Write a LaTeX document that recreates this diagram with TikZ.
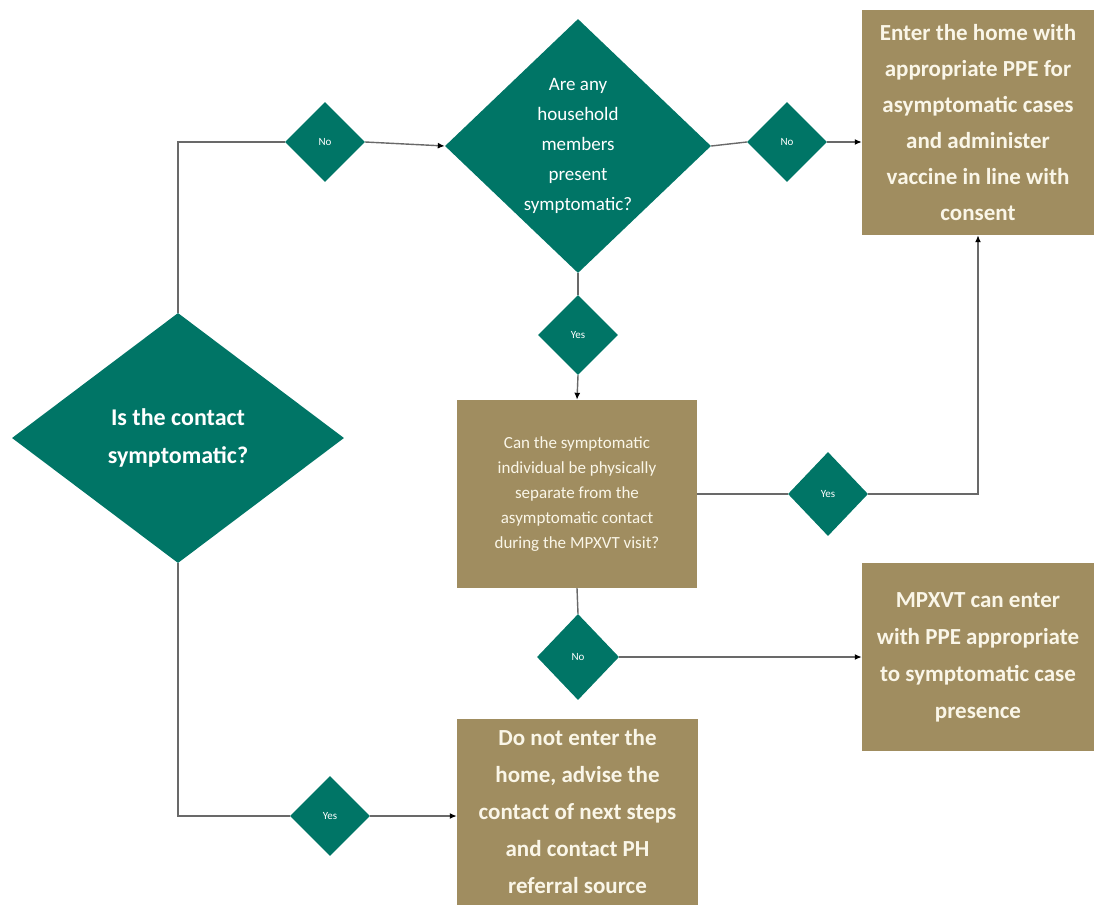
\documentclass[tikz,border=0pt]{standalone}
\usepackage{fontspec}
\setmainfont{Carlito}
\usetikzlibrary{shapes.geometric,arrows.meta}
\definecolor{dteal}{RGB}{0,117,102}
\definecolor{boxtan}{RGB}{160,141,96}
\definecolor{cream}{RGB}{250,246,232}
\definecolor{linegray}{RGB}{105,105,105}

\begin{document}
\begin{tikzpicture}[x=1pt,y=-1pt,
  dec/.style={diamond,fill=dteal,text=white,inner sep=0pt,align=center},
  yn/.style={dec,minimum width=80pt,minimum height=80pt,font=\fontsize{11}{13}\selectfont},
  res/.style={rectangle,fill=boxtan,text=cream,align=center,inner sep=0pt},
  wire/.style={draw=linegray,line width=1.4pt},
  arr/.style={wire,-{Latex[length=7pt,width=6pt,color=black]}}]
	\useasboundingbox (0,0) rectangle (1094,905);
	\clip (0,0) rectangle (1094,905);
	\node[dec,minimum width=332pt,minimum height=250pt,font=\bfseries\fontsize{24}{38}\selectfont] (contact) at (178,438) {Is the contact\\symptomatic?};
	\node[dec,minimum width=266pt,minimum height=254pt,font=\fontsize{19}{30}\selectfont] (house) at (578,146) {Are any\\household\\members\\present\\symptomatic?};
	\node[yn] (no1) at (325,142) {No};
	\node[yn] (no2) at (787,142) {No};
	\node[yn] (yes1) at (578,335) {Yes};
	\node[yn,minimum height=84pt] (yes2) at (828,494) {Yes};
	\node[yn,minimum width=82pt,minimum height=86pt] (no3) at (578,657) {No};
	\node[yn] (yes3) at (330,816) {Yes};
	\node[res,minimum width=232pt,minimum height=225pt,font=\bfseries\fontsize{23}{36}\selectfont] (enter) at (978,122.5) {Enter the home with\\appropriate PPE for\\asymptomatic cases\\and administer\\vaccine in line with\\consent};
	\node[res,minimum width=240pt,minimum height=188pt,font=\fontsize{17}{25}\selectfont] (separate) at (577,494) {Can the symptomatic\\individual be physically\\separate from the\\asymptomatic contact\\during the MPXVT visit?};
	\node[res,minimum width=232pt,minimum height=188pt,font=\bfseries\fontsize{23}{37}\selectfont] (mpxvt) at (978,657) {MPXVT can enter\\with PPE appropriate\\to symptomatic case\\presence};
	\node[res,minimum width=241pt,minimum height=186pt,font=\bfseries\fontsize{23}{37}\selectfont] (noenter) at (577.5,812) {Do not enter the\\home, advise the\\contact of next steps\\and contact PH\\referral source};
	\draw[wire] (contact.north) |- (no1.west);
	\draw[arr] (no1.east) -- (house.west);
	\draw[wire] (house.east) -- (no2.west);
	\draw[arr] (no2.east) -- (no2.east -| enter.west);
	\draw[wire] (house.south) -- (yes1.north);
	\draw[arr] (yes1.south) -- (separate.north);
	\draw[wire] (separate.east) -- (yes2.west);
	\draw[arr] (yes2.east) -| (enter.south);
	\draw[wire] (separate.south) -- (no3.north);
	\draw[arr] (no3.east) -- (no3.east -| mpxvt.west);
	\draw[wire] (contact.south) |- (yes3.west);
	\draw[arr] (yes3.east) -- (yes3.east -| noenter.west);
\end{tikzpicture}
\end{document}
